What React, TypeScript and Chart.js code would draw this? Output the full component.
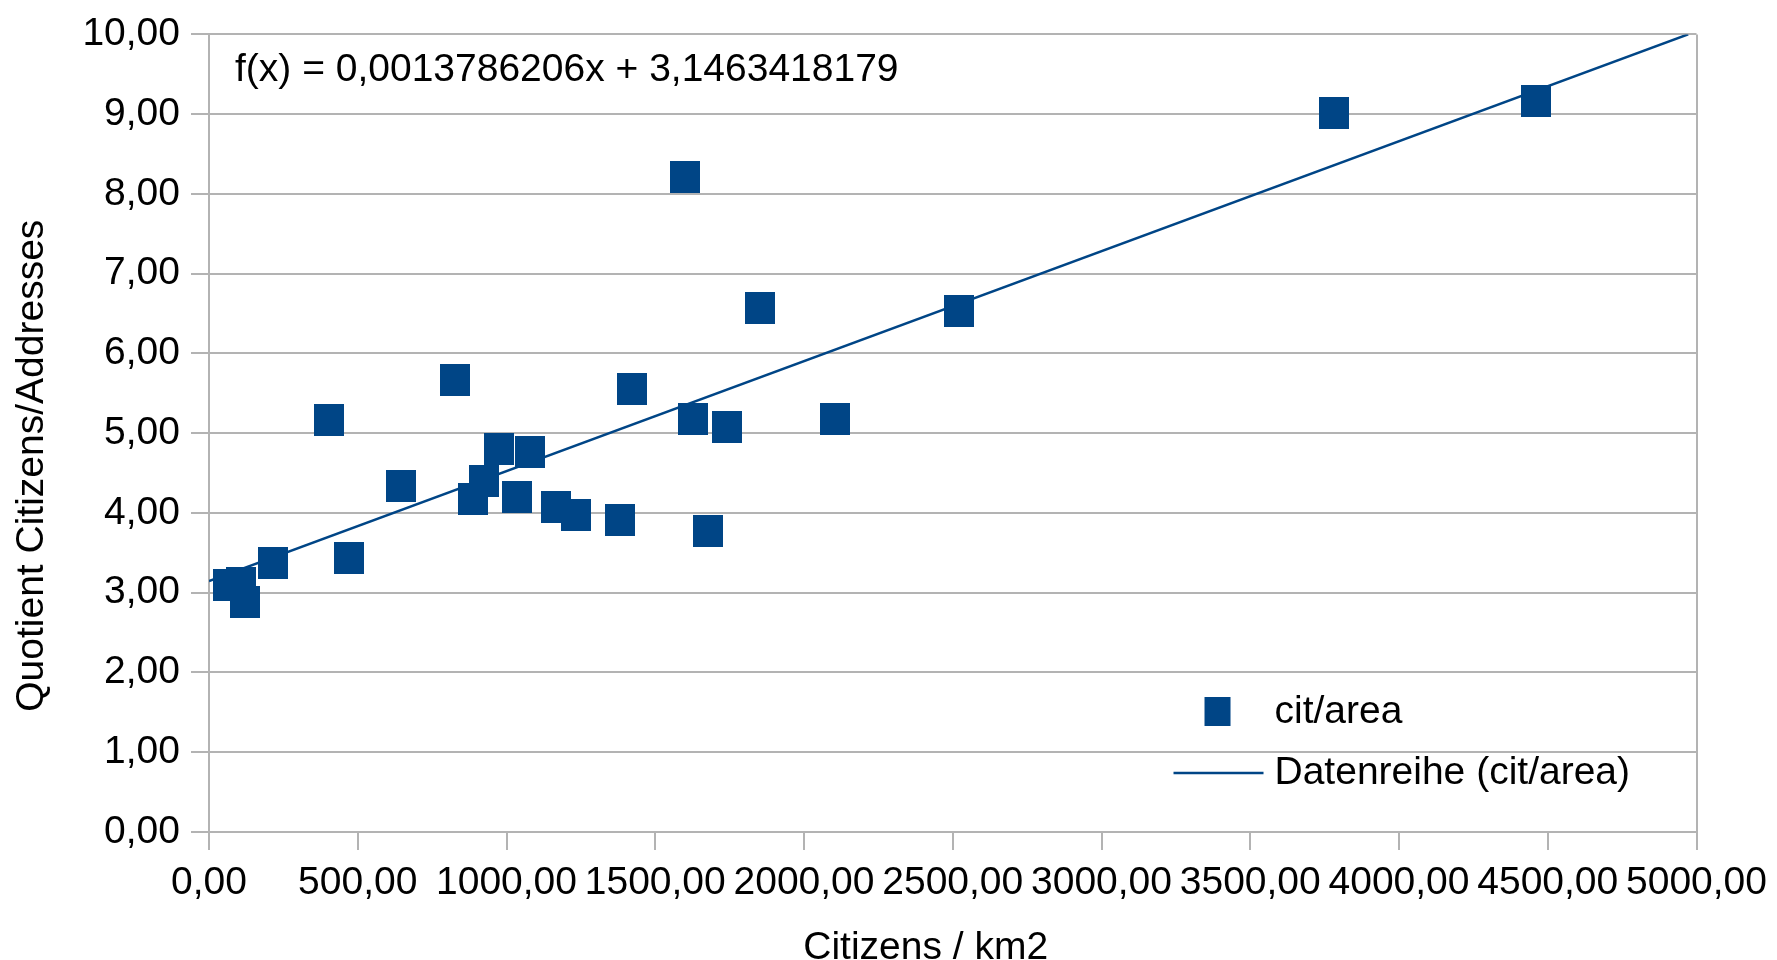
import React, { useEffect, useRef } from "react";
import { Chart, registerables } from "chart.js";

Chart.register(...registerables);

// ---- data ----
const densities = [64, 108, 122, 216, 405, 470, 647, 828, 886, 924, 976, 1035, 1078, 1167, 1234, 1382, 1422, 1599, 1627, 1676, 1740, 1853, 2105, 2520, 3780, 4460];
const quotients = [3.10, 3.12, 2.88, 3.37, 5.16, 3.43, 4.34, 5.67, 4.17, 4.40, 4.80, 4.20, 4.76, 4.08, 3.98, 3.91, 5.56, 8.21, 5.18, 3.78, 5.08, 6.57, 5.18, 6.53, 9.01, 9.17];
const trendSlope = 0.0013786206;
const trendIntercept = 3.1463418179;
const trendXRange = [0, 4972];
const xTickValues = [0, 500, 1000, 1500, 2000, 2500, 3000, 3500, 4000, 4500, 5000];
const yTickValues = [0, 1, 2, 3, 4, 5, 6, 7, 8, 9, 10];
const seriesName = "cit/area";
const trendName = "Datenreihe (cit/area)";
const equationText = "f(x) = 0,0013786206x + 3,1463418179";
const xTitle = "Citizens / km2";
const yTitle = "Quotient Citizens/Addresses";

// ---- style ----
const SERIES_COLOR = "#004586";
const GRID_COLOR = "#b3b3b3";
const FONT_FAMILY = "'Liberation Sans', Arial, sans-serif";
const FONT_SIZE = 39;

const fmt = (v: number) => v.toFixed(2).replace(".", ",");

function makeMarker(): HTMLCanvasElement {
  const c = document.createElement("canvas");
  c.width = 30;
  c.height = 32;
  const g = c.getContext("2d")!;
  g.fillStyle = SERIES_COLOR;
  g.fillRect(0, 0, 30, 32);
  return c;
}

const overlayPlugin = {
  id: "overlay",
  afterDraw(chart: any) {
    const { ctx, chartArea: a } = chart;
    ctx.save();
    ctx.font = `${FONT_SIZE}px ${FONT_FAMILY}`;
    ctx.textBaseline = "middle";
    ctx.textAlign = "left";
    ctx.fillStyle = "#000";
    ctx.fillText(equationText, a.left + 26, a.top + 36);

    // legend inside plot area
    ctx.fillStyle = SERIES_COLOR;
    ctx.fillRect(a.right - 492, a.bottom - 135, 26, 29);
    ctx.fillStyle = "#000";
    ctx.fillText(seriesName, a.right - 422, a.bottom - 120);
    ctx.strokeStyle = SERIES_COLOR;
    ctx.lineWidth = 2.5;
    ctx.beginPath();
    ctx.moveTo(a.right - 523, a.bottom - 59);
    ctx.lineTo(a.right - 433, a.bottom - 59);
    ctx.stroke();
    ctx.fillText(trendName, a.right - 422, a.bottom - 59);
    ctx.restore();
  },
};

export default function App() {
  const canvasRef = useRef<HTMLCanvasElement | null>(null);

  useEffect(() => {
    if (!canvasRef.current) return;
    const marker = makeMarker();
    const points = densities.map((x, i) => ({ x, y: quotients[i] }));
    const trend = trendXRange.map((x) => ({ x, y: trendSlope * x + trendIntercept }));

    const chart = new Chart(canvasRef.current, {
      type: "scatter",
      data: {
        datasets: [
          {
            label: seriesName,
            data: points,
            pointStyle: marker as any,
            pointRadius: 16,
            pointHoverRadius: 16,
            backgroundColor: SERIES_COLOR,
            borderColor: SERIES_COLOR,
            showLine: false,
          },
          {
            label: trendName,
            data: trend,
            type: "line" as any,
            showLine: true,
            borderColor: SERIES_COLOR,
            borderWidth: 2.5,
            pointRadius: 0,
            fill: false,
          },
        ],
      },
      options: {
        responsive: false,
        animation: false,
        devicePixelRatio: 1,
        layout: { padding: { top: 32, right: 76, left: 0, bottom: 0 } },
        plugins: {
          legend: { display: false },
          tooltip: { enabled: false },
        },
        scales: {
          x: {
            type: "linear",
            min: 0,
            max: 5000,
            afterBuildTicks: (scale: any) => {
              scale.ticks = xTickValues.map((value) => ({ value }));
            },
            afterFit: (scale: any) => {
              scale.height = 128;
            },
            ticks: {
              callback: (v: any) => fmt(Number(v)),
              color: "#000",
              font: { family: FONT_FAMILY, size: FONT_SIZE },
              padding: 10,
              maxRotation: 0,
              autoSkip: false,
            },
            grid: {
              color: (c: any) =>
                c.tick && (c.tick.value === 0 || c.tick.value === 5000) ? GRID_COLOR : "rgba(0,0,0,0)",
              tickColor: GRID_COLOR,
              tickLength: 18,
              lineWidth: 2,
            },
            border: { display: true, color: GRID_COLOR, width: 2 },
            title: {
              display: true,
              text: xTitle + "     ",
              color: "#000",
              font: { family: FONT_FAMILY, size: FONT_SIZE },
              padding: { top: 0, bottom: -12 },
            },
          },
          y: {
            type: "linear",
            min: 0,
            max: 10,
            afterBuildTicks: (scale: any) => {
              scale.ticks = yTickValues.map((value) => ({ value }));
            },
            afterFit: (scale: any) => {
              scale.width = 209;
            },
            ticks: {
              callback: (v: any) => fmt(Number(v)),
              color: "#000",
              font: { family: FONT_FAMILY, size: FONT_SIZE },
              padding: 11,
              autoSkip: false,
            },
            grid: {
              color: GRID_COLOR,
              tickColor: GRID_COLOR,
              tickLength: 18,
              lineWidth: 2,
            },
            border: { display: true, color: GRID_COLOR, width: 2 },
            title: {
              display: true,
              text: yTitle + "      ",
              color: "#000",
              font: { family: FONT_FAMILY, size: FONT_SIZE },
              padding: { top: 9, bottom: 0 },
            },
          },
        },
      },
      plugins: [overlayPlugin],
    });

    return () => chart.destroy();
  }, []);

  return (
    <div style={{ position: "absolute", left: 0, top: 0, width: 1777, height: 960, background: "#fff" }}>
      <canvas ref={canvasRef} width={1777} height={960} style={{ width: 1777, height: 960, display: "block" }} />
    </div>
  );
}
